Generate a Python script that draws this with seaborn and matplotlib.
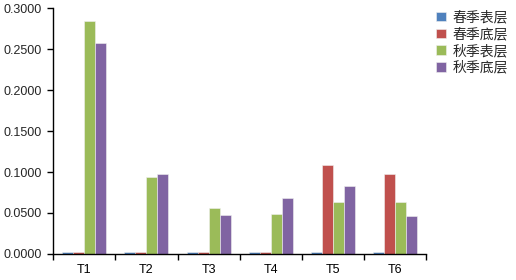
import matplotlib
matplotlib.use("Agg")
import matplotlib.pyplot as plt
import seaborn as sns
import pandas as pd
from matplotlib.ticker import FormatStrFormatter, FixedLocator

categories = ["T1", "T2", "T3", "T4", "T5", "T6"]
series_names = ["春季表层", "春季底层", "秋季表层", "秋季底层"]
spring_surface = [0.002, 0.002, 0.002, 0.002, 0.002, 0.002]
spring_bottom = [0.002, 0.002, 0.002, 0.002, 0.108, 0.098]
autumn_surface = [0.284, 0.0935, 0.056, 0.049, 0.064, 0.064]
autumn_bottom = [0.258, 0.097, 0.047, 0.068, 0.083, 0.046]
colors = ["#4F81BD", "#C0504D", "#9BBB59", "#8064A2"]

rows = []
for name, vals in zip(series_names, [spring_surface, spring_bottom, autumn_surface, autumn_bottom]):
    for c, v in zip(categories, vals):
        rows.append({"cat": c, "series": name, "value": v})
df = pd.DataFrame(rows)

sns.set_theme(style="white")
plt.rcParams['font.family'] = ['Noto Sans CJK SC', 'DejaVu Sans']

fig = plt.figure(figsize=(5.16, 2.80), dpi=100)
ax = fig.add_axes([0.103, 0.093, 0.723, 0.878])

sns.barplot(data=df, x="cat", y="value", hue="series", hue_order=series_names,
            order=categories, palette=colors, saturation=1, width=0.71, ax=ax,
            edgecolor="#f0f0f0", linewidth=0.4, errorbar=None)

ax.set_xlim(-0.5, 5.5)
ax.set_ylim(0, 0.3)
ax.set_yticks([0, 0.05, 0.1, 0.15, 0.2, 0.25, 0.3])
ax.yaxis.set_major_formatter(FormatStrFormatter("%.4f"))
ax.set_xlabel("")
ax.set_ylabel("")
ax.xaxis.set_minor_locator(FixedLocator([i - 0.5 for i in range(7)]))
ax.tick_params(axis="x", which="major", length=0, labelsize=9, pad=7, colors="black")
ax.tick_params(axis="x", which="minor", length=4, width=1, color="black", direction="out", bottom=True)
ax.tick_params(axis="y", which="major", length=4, width=1, color="black", direction="out", labelsize=9, left=True, pad=4)
for lbl in ax.get_xticklabels() + ax.get_yticklabels():
    lbl.set_family(["Liberation Sans", "DejaVu Sans"])
for s in ["top", "right"]:
    ax.spines[s].set_visible(False)
for s in ["left", "bottom"]:
    ax.spines[s].set_color("black")
    ax.spines[s].set_linewidth(1)
ax.grid(False)

leg = ax.legend(loc="upper left", bbox_to_anchor=(1.0, 1.03), frameon=False,
                fontsize=10, handlelength=0.7, handleheight=0.7, handletextpad=0.5,
                labelspacing=0.2, borderaxespad=0.3)
for t in leg.get_texts():
    t.set_family(['Noto Sans CJK SC', 'DejaVu Sans'])

fig.savefig("out.png", dpi=100)
